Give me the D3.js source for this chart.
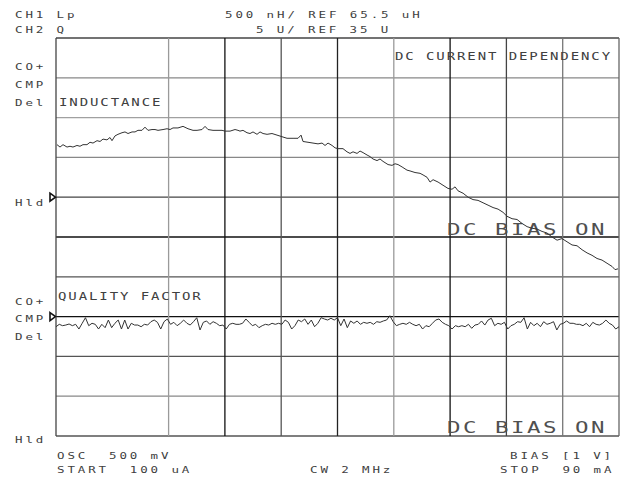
<!DOCTYPE html>
<html>
<head>
<meta charset="utf-8">
<script src="https://cdn.jsdelivr.net/npm/d3@7"></script>
<style>
	html, body { margin: 0; padding: 0; background: #fff; }
	svg text { font-family: "DejaVu Sans Mono", "Liberation Mono", monospace; fill: #404040; white-space: pre; }
	.stat { font-size: 8.6px; letter-spacing: 2px; }
	.lbl { font-size: 10.4px; letter-spacing: 1.4px; }
	.big { font-size: 15.5px; letter-spacing: 1.7px; fill: #505050; }
</style>
</head>
<body>
<div id="chart"></div>
<script>

var width = 624, height = 478;

// sweep settings (mA)
const sweepStart = 0.1, sweepStop = 90;

// channel 1 : Lp, 500 nH/div, REF 65.5 uH on the 4th division from top
const ch1Ref = 65.5, ch1Div = 0.5, ch1RefDiv = 4;
// channel 2 : Q, 5 U/div, REF 35 U on the 7th division
const ch2Ref = 35, ch2Div = 5, ch2RefDiv = 7;

// inductance trace, bias current (mA) / Lp (uH)
var lBias = [0.26,0.74,1.22,1.86,2.34,2.81,3.45,3.93,4.41,5.05,5.53,6.01,6.65,7.13,7.61,8.24,8.72,9.04,9.52,10.00,
	10.64,11.12,11.60,12.24,12.72,13.19,13.83,14.31,14.79,15.43,15.91,16.39,17.19,17.83,18.31,18.78,19.58,20.38,21.18,21.98,
	22.62,23.42,23.90,24.37,25.17,25.97,26.61,27.09,27.89,28.69,29.16,29.48,29.96,30.60,31.08,31.56,32.20,32.68,33.16,33.80,
	34.59,35.39,36.19,36.99,37.95,38.75,39.23,39.54,40.34,41.14,41.94,42.58,43.06,43.54,44.18,44.66,45.13,45.93,46.57,47.05,
	47.53,48.17,48.65,49.13,49.77,50.24,50.72,51.36,51.84,52.32,53.12,53.76,54.24,54.72,55.36,56.15,56.63,57.43,58.23,58.71,
	59.35,59.83,60.31,61.11,61.90,62.70,63.34,63.82,64.30,65.10,65.90,66.69,67.49,68.29,69.09,69.89,70.69,71.48,72.12,72.92,
	73.72,74.52,75.32,76.11,76.91,77.71,78.51,79.31,80.11,80.90,81.70,82.50,83.30,84.10,84.90,85.69,86.49,87.29,88.09,88.89,
	89.37,89.84];
var lValue = [66.16,66.13,66.16,66.13,66.14,66.13,66.15,66.14,66.16,66.16,66.19,66.18,66.21,66.20,66.23,66.22,66.25,66.21,66.27,66.29,
	66.31,66.32,66.30,66.32,66.32,66.34,66.34,66.38,66.34,66.35,66.35,66.34,66.35,66.36,66.35,66.37,66.37,66.39,66.36,66.34,
	66.34,66.35,66.39,66.35,66.34,66.34,66.34,66.33,66.33,66.35,66.34,66.33,66.34,66.31,66.30,66.32,66.29,66.32,66.30,66.29,
	66.30,66.28,66.26,66.24,66.24,66.24,66.28,66.20,66.19,66.18,66.17,66.18,66.15,66.18,66.15,66.12,66.11,66.11,66.07,66.05,
	66.07,66.05,66.08,66.06,66.03,66.01,65.98,65.96,65.98,65.95,65.91,65.90,65.92,65.91,65.88,65.84,65.83,65.81,65.80,65.78,
	65.75,65.69,65.72,65.69,65.65,65.61,65.60,65.63,65.58,65.55,65.50,65.47,65.46,65.43,65.40,65.37,65.35,65.31,65.26,65.23,
	65.22,65.17,65.13,65.11,65.10,65.07,65.05,65.00,64.96,64.98,64.94,64.90,64.89,64.84,64.80,64.77,64.73,64.71,64.67,64.63,
	64.59,64.60];

// quality factor trace, one value per sweep point
var qValue = [33.73,34.03,33.86,33.94,34.07,33.86,34.03,33.44,34.16,34.86,33.86,34.16,34.03,33.44,34.03,33.61,34.57,33.61,34.16,34.57,
	33.44,34.57,33.44,34.16,33.94,33.94,33.73,34.03,33.94,34.36,34.57,34.28,33.44,34.36,34.70,34.03,34.28,33.86,34.16,34.57,
	34.16,33.94,34.36,34.86,33.32,34.28,34.45,34.03,34.36,34.16,33.86,33.94,33.44,34.03,34.16,34.03,34.03,34.16,
	34.70,34.28,33.86,34.03,33.61,33.86,34.03,33.94,34.16,34.03,34.16,34.03,34.57,34.28,33.44,33.86,34.57,34.36,34.70,34.03,
	34.57,33.73,34.16,34.86,34.70,34.57,34.79,34.57,34.86,33.86,34.70,33.61,34.45,34.16,34.45,34.03,34.28,34.16,34.28,34.03,
	34.36,34.28,34.45,34.57,35.11,34.36,33.86,34.03,34.16,34.03,34.28,34.03,33.86,34.03,33.44,33.86,33.73,34.16,
	34.57,34.70,34.28,34.03,33.86,33.44,33.86,33.73,33.86,33.73,34.03,33.53,33.94,34.03,34.45,33.94,34.57,34.79,33.86,34.16,
	34.03,34.28,33.44,33.86,34.03,34.36,34.28,34.86,33.44,34.28,33.86,34.16,33.73,34.36,34.03,34.16,34.36,33.32,34.03,34.16,
	34.45,34.16,34.16,34.03,34.03,33.86,34.16,33.73,34.28,34.03,33.94,34.16,34.57,34.16,33.94,33.44,33.73];

// grid: divisions that got drawn (the plotter skipped col 1) and their pen tone
var vDivs  = [0, 2, 3, 4, 5, 6, 7, 8, 9, 10];
var vTones = ["#444","#9a9a9a","#111","#555","#222","#9a9a9a","#111","#444","#777","#666"];
var hDivs  = [0, 1, 2, 3, 4, 5, 6, 7, 8, 9, 10];
var hTones = ["#444","#888","#a0a0a0","#888","#444","#111","#555","#111","#555","#888","#555"];

var statusLines = [
	{ t: "CH1 Lp", x: 15, y: 18 },
	{ t: "CH2 Q", x: 15, y: 33 },
	{ t: "500 nH/ REF 65.5 uH", x: 225, y: 18 },
	{ t: "5 U/ REF 35 U", x: 256, y: 33 },
	{ t: "CO+", x: 15, y: 70 },
	{ t: "CMP", x: 15, y: 88 },
	{ t: "Del", x: 15, y: 106 },
	{ t: "Hld", x: 15, y: 206 },
	{ t: "CO+", x: 15, y: 305 },
	{ t: "CMP", x: 15, y: 322 },
	{ t: "Del", x: 15, y: 340 },
	{ t: "Hld", x: 15, y: 443 },
	{ t: "OSC  500 mV", x: 57, y: 459 },
	{ t: "START  100 uA", x: 57, y: 473 },
	{ t: "CW 2 MHz", x: 310, y: 473 },
	{ t: "BIAS [1 V]", x: 510, y: 459 },
	{ t: "STOP  90 mA", x: 500, y: 473 }
];
var userLabels = [
	{ t: "INDUCTANCE", x: 59, y: 106 },
	{ t: "DC CURRENT DEPENDENCY", x: 395, y: 60 },
	{ t: "QUALITY FACTOR", x: 58, y: 300 }
];
var biasLabels = [
	{ t: "DC BIAS ON", x: 447, y: 235 },
	{ t: "DC BIAS ON", x: 447, y: 433 }
];

var plot = { left: 56, right: 619, top: 38, bottom: 436 };

var svg = d3.select("#chart").append("svg")
	.attr("width", width)
	.attr("height", height);

svg.append("rect").attr("width", width).attr("height", height).attr("fill", "#fff");

var x = d3.scaleLinear().domain([sweepStart, sweepStop]).range([plot.left, plot.right]);
var gx = d3.scaleLinear().domain([0, 10]).range([plot.left, plot.right]);
var gy = d3.scaleLinear().domain([0, 10]).range([plot.top, plot.bottom]);

// top of screen is ref + refDiv divisions, bottom is 10 divisions lower
var yL = d3.scaleLinear()
	.domain([ch1Ref - (10 - ch1RefDiv) * ch1Div, ch1Ref + ch1RefDiv * ch1Div])
	.range([plot.bottom, plot.top]);
var yQ = d3.scaleLinear()
	.domain([ch2Ref - (10 - ch2RefDiv) * ch2Div, ch2Ref + ch2RefDiv * ch2Div])
	.range([plot.bottom, plot.top]);

var qIndex = d3.scaleLinear().domain([0, qValue.length - 1]).range([sweepStart, sweepStop]);

var grid = svg.append("g").attr("class", "grid");

grid.selectAll("line.h").data(hDivs).enter().append("line")
	.attr("class", "h")
	.attr("x1", plot.left).attr("x2", plot.right)
	.attr("y1", d => gy(d)).attr("y2", d => gy(d))
	.attr("stroke", (d, i) => hTones[i])
	.attr("stroke-width", 1.3);

grid.selectAll("line.v").data(vDivs).enter().append("line")
	.attr("class", "v")
	.attr("y1", plot.top).attr("y2", plot.bottom)
	.attr("x1", d => gx(d)).attr("x2", d => gx(d))
	.attr("stroke", (d, i) => vTones[i])
	.attr("stroke-width", 1.3);

// plotter lettering is wide and thin, so stretch the mono font sideways
function addText(data, cls, sx) {
	svg.append("g").selectAll("text").data(data).enter().append("text")
		.attr("class", cls)
		.attr("transform", d => "translate(" + d.x + "," + d.y + ")scale(" + sx + ",1)")
		.text(d => d.t);
}

addText(statusLines, "stat", 1.45);
addText(userLabels, "lbl", 1.35);
addText(biasLabels, "big", 1.45);

// reference markers (open triangles) at each channel's ref line
var markers = [gy(ch1RefDiv), gy(ch2RefDiv)];
svg.append("g").selectAll("path.marker").data(markers).enter().append("path")
	.attr("class", "marker")
	.attr("d", d => "M" + 50 + "," + (d - 4) + "L" + 55.5 + "," + d + "L" + 50 + "," + (d + 4) + "Z")
	.attr("fill", "#fff")
	.attr("stroke", "#111")
	.attr("stroke-width", 1.6);

// traces
var lineL = d3.line()
	.x((d, i) => x(lBias[i]))
	.y(d => yL(d));

var lineQ = d3.line()
	.x((d, i) => x(qIndex(i)))
	.y(d => yQ(d));

svg.append("path")
	.datum(lValue)
	.attr("d", lineL)
	.attr("fill", "none")
	.attr("stroke", "#333")
	.attr("stroke-width", 1);

svg.append("path")
	.datum(qValue)
	.attr("d", lineQ)
	.attr("fill", "none")
	.attr("stroke", "#333")
	.attr("stroke-width", 1);

</script>
</body>
</html>
